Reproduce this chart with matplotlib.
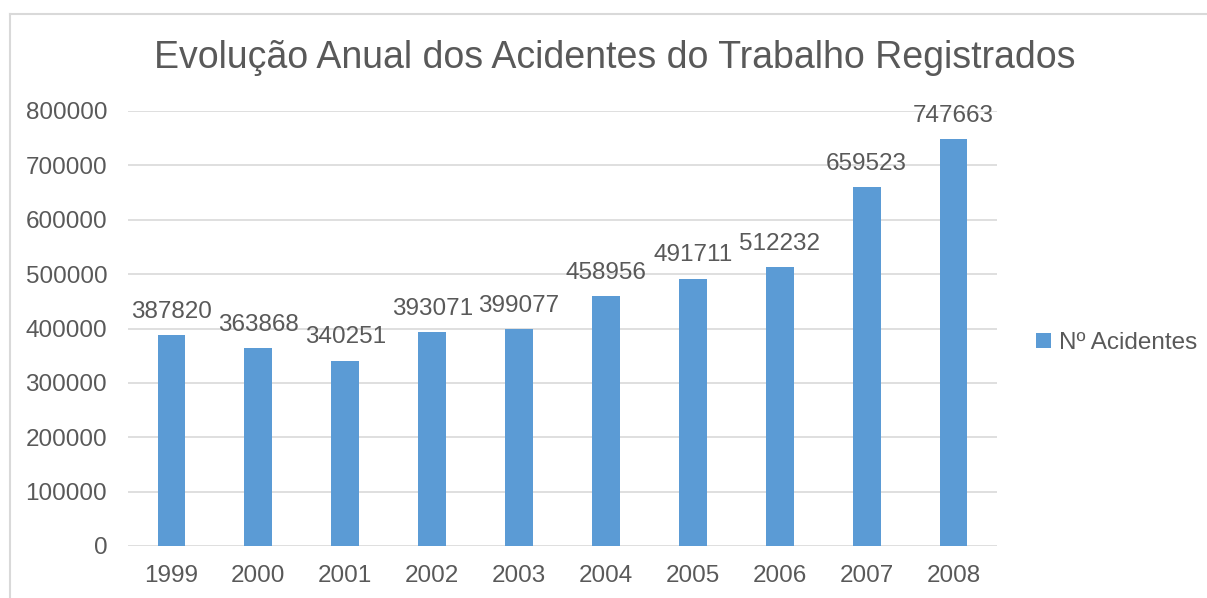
import matplotlib
matplotlib.use("Agg")
import matplotlib.pyplot as plt
from matplotlib.lines import Line2D
from matplotlib.patches import Patch

plt.rcParams['font.family'] = ['Liberation Sans', 'DejaVu Sans']

years = ["1999", "2000", "2001", "2002", "2003", "2004", "2005", "2006", "2007", "2008"]
acidentes = [387820, 363868, 340251, 393071, 399077, 458956, 491711, 512232, 659523, 747663]
yticks = [0, 100000, 200000, 300000, 400000, 500000, 600000, 700000, 800000]
title = "Evolução Anual dos Acidentes do Trabalho Registrados"
series_name = "Nº Acidentes"

W, H = 1207, 598
fig = plt.figure(figsize=(W / 100, H / 100), dpi=100)
fig.patch.set_facecolor("white")

text_color = "#595959"
bar_color = "#5B9BD5"
grid_color = "#D9D9D9"

ax = fig.add_axes([128 / W, 1 - 546 / H, (997 - 128) / W, (546 - 111) / H])
x = list(range(len(years)))
bars = ax.bar(x, acidentes, width=0.32, color=bar_color, zorder=3)
ax.set_xlim(-0.5, len(years) - 0.5)
ax.set_ylim(0, 800000)
ax.set_yticks(yticks)
ax.set_yticklabels([str(v) for v in yticks])
ax.set_xticks(x)
ax.set_xticklabels(years)
ax.grid(axis="y", color=grid_color, linewidth=1.2, zorder=0)
for s in ax.spines.values():
    s.set_visible(False)
ax.tick_params(axis="both", length=0, labelsize=17.5, colors=text_color)
ax.tick_params(axis="y", pad=15)
ax.tick_params(axis="x", pad=14)

for xi, v in zip(x, acidentes):
    ax.annotate(str(v), (xi, v), xytext=(0, 9), textcoords="offset points",
                ha="center", va="bottom", fontsize=17.5, color=text_color)

fig.text(615 / W, 1 - 58 / H, title, ha="center", va="center",
         fontsize=27, color=text_color)

ax.legend(handles=[Patch(facecolor=bar_color, label=series_name)],
          loc="center left", bbox_to_anchor=(1036 / W, 1 - 343 / H),
          bbox_transform=fig.transFigure, frameon=False, fontsize=17.5,
          labelcolor=text_color, handlelength=0.6, handleheight=0.6,
          handletextpad=0.35, borderaxespad=0, borderpad=0)

fig.add_artist(Line2D([10 / W, 1], [1 - 14 / H, 1 - 14 / H], color=grid_color,
                      linewidth=1.5, transform=fig.transFigure))
fig.add_artist(Line2D([10 / W, 10 / W], [0, 1 - 14 / H], color=grid_color,
                      linewidth=1.5, transform=fig.transFigure))

fig.savefig("out.png", dpi=100, facecolor="white")
